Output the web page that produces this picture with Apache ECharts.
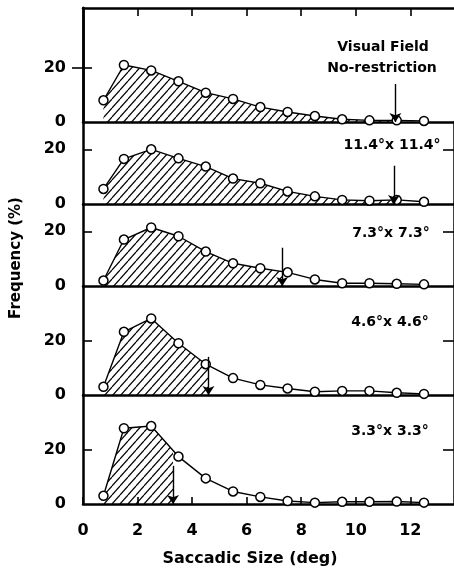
<!DOCTYPE html>
<html><head><meta charset="utf-8">
<script src="https://cdn.jsdelivr.net/npm/echarts@6/dist/echarts.min.js"></script>
<style>html,body{margin:0;padding:0;background:#fff}#c{width:454px;height:569px}</style>
</head><body><div id="c"></div>
<script>
// ---- data ----
const saccadicSize = [0.75, 1.5, 2.5, 3.5, 4.5, 5.5, 6.5, 7.5, 8.5, 9.5, 10.5, 11.5, 12.5];
const freqNoRestriction = [8, 21, 19, 15, 10.8, 8.5, 5.5, 3.7, 2.2, 1.0, 0.6, 0.6, 0.4];
const freq11_4 = [5.5, 16.5, 20, 16.7, 13.7, 9.3, 7.6, 4.6, 2.8, 1.5, 1.2, 1.5, 0.8];
const freq7_3 = [2, 17, 21.4, 18.2, 12.6, 8.3, 6.5, 5, 2.4, 1.0, 1.0, 0.8, 0.6];
const freq4_6 = [3, 23.2, 28.1, 19, 11.3, 6.2, 3.7, 2.4, 1.2, 1.5, 1.5, 0.8, 0.4];
const freq3_3 = [3, 27.8, 28.6, 17.4, 9.4, 4.6, 2.6, 1.1, 0.5, 0.8, 0.8, 0.9, 0.5];
const arrowX = [11.45, 11.4, 7.3, 4.6, 3.3];
const arrowTop = [14, 14, 14, 14, 14];
const panelLabels = [['Visual Field', 'No-restriction'], ['11.4°x 11.4°'], ['7.3°x 7.3°'], ['4.6°x 4.6°'], ['3.3°x 3.3°']];
const xTickValues = [0, 2, 4, 6, 8, 10, 12];
const yLabelValues = [0, 20];
const yTickValues = [20];
const yMax = [42, 30, 30, 40, 40];
const xMax = 13.6;
const yTitle = 'Frequency (%)';
const xTitle = 'Saccadic Size (deg)';

const panels = [freqNoRestriction, freq11_4, freq7_3, freq4_6, freq3_3];

// ---- layout / style ----
const gridTop = [8, 122, 204, 286, 395];
const gridH = [114, 82, 82, 109, 109];
const GL = 83, GW = 376.3;
const FONT = 'DejaVu Sans';

// hatch pattern
const pat = document.createElement('canvas');
pat.width = 8; pat.height = 9;
(function () {
  const c = pat.getContext('2d');
  c.strokeStyle = '#000'; c.lineWidth = 1.2;
  for (const dx of [-8, 0, 8]) {
    c.beginPath(); c.moveTo(dx, 9); c.lineTo(dx + 8, 0); c.stroke();
  }
})();

const grid = [], xAxis = [], yAxis = [], series = [];
panels.forEach((vals, i) => {
  grid.push({ left: GL, top: gridTop[i], width: GW, height: gridH[i], show: false });
  xAxis.push({
    gridIndex: i, type: 'value', min: 0, max: xMax, interval: 2, position: 'bottom',
    axisLine: { show: true, onZero: false, lineStyle: { color: '#000', width: 2.5 } },
    axisTick: { show: i === 4, inside: true, length: 7, customValues: xTickValues, lineStyle: { color: '#000', width: 1.6 } },
    axisLabel: { show: i === 4, customValues: xTickValues, margin: 19, color: '#000', fontFamily: FONT, fontWeight: 'bold', fontSize: 16 },
    splitLine: { show: false }
  });
  yAxis.push({
    gridIndex: i, type: 'value', min: 0, max: yMax[i], interval: 20, position: 'left',
    axisLine: { show: true, lineStyle: { color: '#000', width: 2.5 } },
    axisTick: { show: true, inside: true, length: 9, customValues: yTickValues, lineStyle: { color: '#000', width: 1.6 } },
    axisLabel: { show: true, customValues: yLabelValues, margin: 17, color: '#000', fontFamily: FONT, fontWeight: 'bold', fontSize: 16 },
    splitLine: { show: false }
  });
  yAxis.push({
    gridIndex: i, type: 'value', min: 0, max: yMax[i], interval: 20, position: 'right',
    axisLine: { show: true, lineStyle: { color: '#000', width: 2.5 } },
    axisTick: { show: true, inside: true, length: 11, customValues: yTickValues, lineStyle: { color: '#000', width: 1.6 } },
    axisLabel: { show: false }, splitLine: { show: false }
  });
});
// top frame of first panel
xAxis.push({
  gridIndex: 0, type: 'value', min: 0, max: xMax, interval: 2, position: 'top',
  axisLine: { show: true, onZero: false, lineStyle: { color: '#000', width: 2.5 } },
  axisTick: { show: true, inside: true, length: 8, customValues: xTickValues.slice(1), lineStyle: { color: '#000', width: 1.6 } },
  axisLabel: { show: false }, splitLine: { show: false }
});

panels.forEach((vals, i) => {
  const pts = saccadicSize.map((x, k) => [x, vals[k]]);
  // hatched area up to arrow
  series.push({
    type: 'custom', xAxisIndex: i, yAxisIndex: 2 * i, z: 1, silent: true,
    data: [0],
    renderItem: function (params, api) {
      const ax = arrowX[i];
      const poly = [];
      for (let k = 0; k < pts.length; k++) {
        if (pts[k][0] <= ax) { poly.push(api.coord(pts[k])); }
        if (k < pts.length - 1 && pts[k][0] <= ax && pts[k + 1][0] > ax) {
          const t = (ax - pts[k][0]) / (pts[k + 1][0] - pts[k][0]);
          poly.push(api.coord([ax, pts[k][1] + t * (pts[k + 1][1] - pts[k][1])]));
        }
      }
      poly.push(api.coord([ax, 0]));
      poly.push(api.coord([pts[0][0], 0]));
      return { type: 'polygon', shape: { points: poly }, style: { fill: { image: pat, repeat: 'repeat' }, stroke: null } };
    }
  });
  series.push({
    type: 'line', xAxisIndex: i, yAxisIndex: 2 * i, z: 3, data: pts,
    symbol: 'circle', symbolSize: 9, showAllSymbol: true,
    lineStyle: { color: '#000', width: 1.4 },
    itemStyle: { color: '#fff', borderColor: '#000', borderWidth: 1.5 },
    markLine: {
      silent: true, symbol: ['none', 'arrow'], symbolSize: 9,
      itemStyle: { color: '#000' },
      lineStyle: { color: '#000', width: 1.4, type: 'solid' }, label: { show: false },
      emphasis: { disabled: true },
      data: [[{ coord: [arrowX[i], arrowTop[i]] }, { coord: [arrowX[i], 0] }]]
    }
  });
});

const labelPos = [[[383, 47.5], [382, 68]], [[392, 145]], [[391, 233.5]], [[390, 322]], [[390, 431.5]]];
const graphic = [];
panelLabels.forEach((lines, i) => {
  lines.forEach((t, j) => {
    graphic.push({ type: 'text', x: labelPos[i][j][0], y: labelPos[i][j][1], z: 10,
      style: { text: t, fill: '#000', font: 'bold 14px "' + FONT + '"', textAlign: 'center', textVerticalAlign: 'middle' } });
  });
});
graphic.push({ type: 'text', x: 250, y: 559, style: { text: xTitle, fill: '#000', font: 'bold 16px "' + FONT + '"', textAlign: 'center', textVerticalAlign: 'middle' } });
graphic.push({ type: 'text', x: 16, y: 258, rotation: Math.PI / 2, style: { text: yTitle, fill: '#000', font: 'bold 15px "' + FONT + '"', textAlign: 'center', textVerticalAlign: 'middle' } });

const chart = echarts.init(document.getElementById('c'), null, { renderer: 'canvas' });
chart.setOption({ animation: false, backgroundColor: '#fff', grid, xAxis, yAxis, series, graphic });
</script></body></html>
